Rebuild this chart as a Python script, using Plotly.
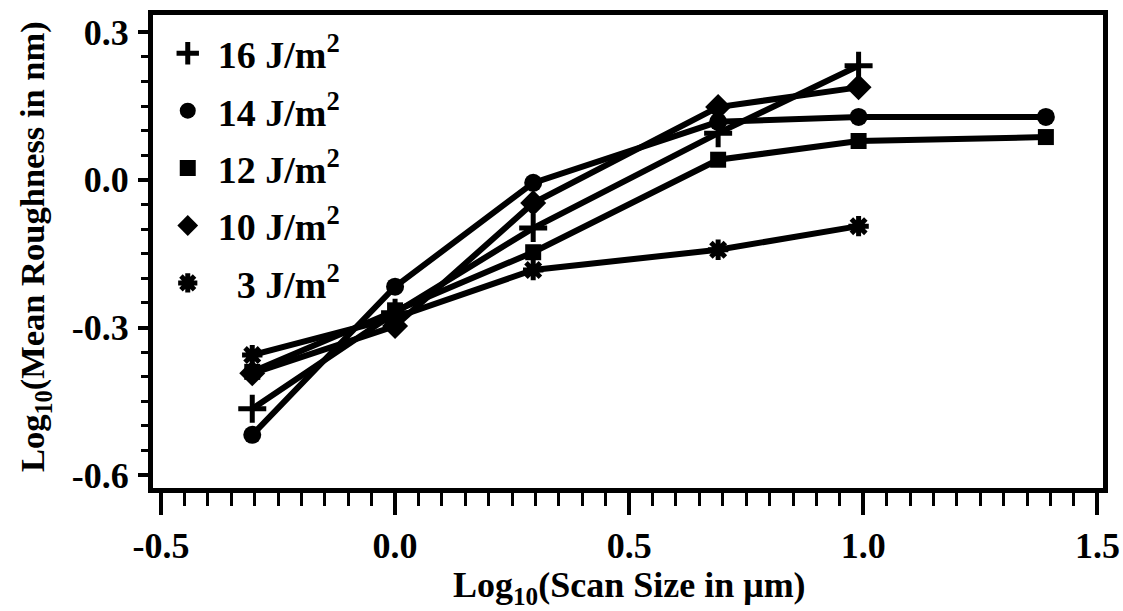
import plotly.graph_objects as go

x_vals = [-0.305, 0.0, 0.295, 0.69, 0.99, 1.39]

series_names = ["16 J/m<sup>2</sup>", "14 J/m<sup>2</sup>", "12 J/m<sup>2</sup>",
                "10 J/m<sup>2</sup>", "\u00a0\u00a03 J/m<sup>2</sup>"]
y_16 = [-0.465, -0.27, -0.098, 0.095, 0.232]
y_14 = [-0.518, -0.217, -0.006, 0.118, 0.128, 0.128]
y_12 = [-0.39, -0.265, -0.147, 0.041, 0.079, 0.087]
y_10 = [-0.393, -0.297, -0.047, 0.148, 0.188]
y_3 = [-0.356, -0.28, -0.183, -0.142, -0.094]
series_y = [y_16, y_14, y_12, y_10, y_3]

symbols = ["cross-thin", "circle", "square", "diamond", "asterisk"]
sizes = [20, 18, 16, 20, 17]
line_w = [5, 0, 0, 0, 5]

y_ticks = [-0.6, -0.3, 0.0, 0.3]
y_tick_text = ["-0.6", "-0.3", "0.0", "0.3"]
x_ticks = [-0.5, 0.0, 0.5, 1.0, 1.5]
x_tick_text = ["-0.5", "0.0", "0.5", "1.0", "1.5"]

FONT = "Liberation Serif"


def bfont(size):
    return dict(family=FONT, size=size, color="black", weight="bold")


fig = go.Figure()

for ys, sym, sz, lw in zip(series_y, symbols, sizes, line_w):
    xs = x_vals[:len(ys)]
    fig.add_trace(go.Scatter(
        x=xs, y=ys, mode="lines+markers", showlegend=False,
        line=dict(color="black", width=6),
        marker=dict(symbol=sym, size=sz, color="black",
                    line=dict(color="black", width=lw)),
    ))

for i, (name, sym, sz, lw) in enumerate(zip(series_names, symbols, sizes, line_w)):
    fig.add_trace(go.Scatter(
        x=[None], y=[None], mode="markers", name=name, legendgroup=f"g{i}",
        marker=dict(symbol=sym, size=sz, color="black",
                    line=dict(color="black", width=lw)),
    ))

fig.update_layout(
    width=1123, height=611,
    margin=dict(l=153, r=20, t=15, b=123, autoexpand=False),
    paper_bgcolor="white", plot_bgcolor="white",
    font=dict(family=FONT, color="black"),
    showlegend=True,
    legend=dict(x=0.005, y=0.985, xanchor="left", yanchor="top",
                font=bfont(38), traceorder="grouped",
                bgcolor="rgba(0,0,0,0)", itemwidth=50, tracegroupgap=5),
    xaxis=dict(
        range=[-0.517, 1.512], tickvals=x_ticks, ticktext=x_tick_text,
        showgrid=False, zeroline=False, automargin=False,
        showline=True, linecolor="black", linewidth=5, mirror=True,
        ticks="outside", ticklen=22, tickwidth=4, tickcolor="black",
        ticklabelstandoff=0,
        minor=dict(dtick=0.05, tick0=0, ticks="outside", ticklen=13,
                   tickwidth=3, tickcolor="black", showgrid=False),
        tickfont=bfont(36),
    ),
    yaxis=dict(
        range=[-0.626, 0.335], tickvals=y_ticks, ticktext=y_tick_text,
        showgrid=False, zeroline=False, automargin=False,
        showline=True, linecolor="black", linewidth=5, mirror=True,
        ticks="outside", ticklen=10, tickwidth=4, tickcolor="black",
        ticklabelstandoff=2,
        minor=dict(dtick=0.05, tick0=0, ticks="outside", ticklen=7,
                   tickwidth=3, tickcolor="black", showgrid=False),
        tickfont=bfont(36),
    ),
    annotations=[
        dict(text="Log<sub>10</sub>(Scan Size in μm)",
             xref="paper", yref="paper", x=0.502, y=-0.21,
             xanchor="center", yanchor="middle",
             showarrow=False, font=bfont(36)),
        dict(text="Log<sub>10</sub>(Mean Roughness in nm)",
             xref="paper", yref="paper", x=-0.124, y=0.51,
             xanchor="center", yanchor="middle", textangle=-90,
             showarrow=False, font=bfont(34.5)),
    ],
)

fig.write_html("out.html")
